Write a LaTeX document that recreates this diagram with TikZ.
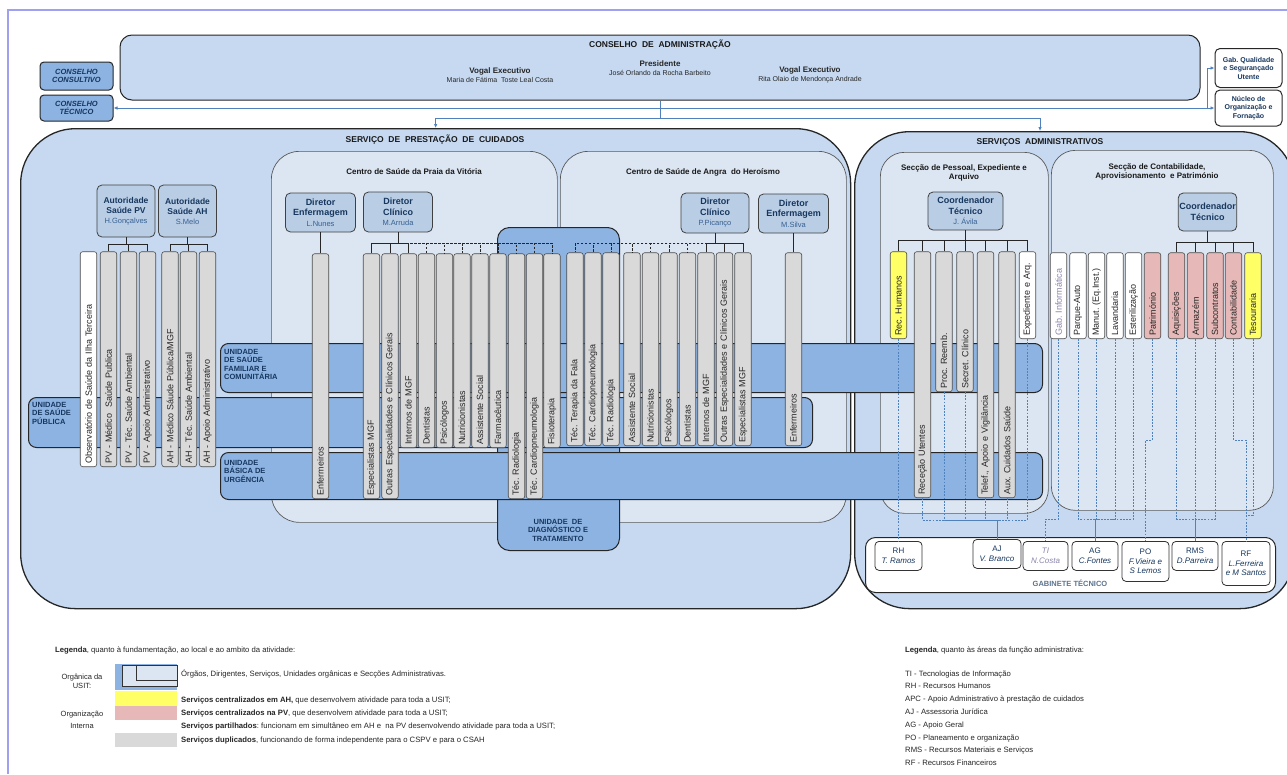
\documentclass[tikz,border=0pt]{standalone}
\usepackage{fontspec}
\setmainfont{Liberation Sans}
\usetikzlibrary{arrows.meta}
\frenchspacing

\definecolor{contfill}{HTML}{C6D9F1}
\definecolor{centfill}{HTML}{DCE6F2}
\definecolor{unitfill}{HTML}{8DB3E2}
\definecolor{dirfill}{HTML}{B9CDE5}
\definecolor{greybar}{HTML}{D9D9D9}
\definecolor{yellowbar}{HTML}{FFFF66}
\definecolor{pinkbar}{HTML}{E6B9B8}
\definecolor{navytxt}{HTML}{17375E}
\definecolor{nametxt}{HTML}{376092}
\definecolor{linkblue}{HTML}{4F81BD}
\definecolor{framelav}{HTML}{A0A0F0}
\definecolor{titxt}{HTML}{8C84AC}
\definecolor{txt}{HTML}{262626}

\newcommand{\svc}[6]{%
  \pgfmathsetmacro{\svclen}{#5-#4-6}%
  \node[svcbar, fill=#2, text width=\svclen pt, anchor=west] (#1) at (#3,#5) {#6};}
\newcommand{\dname}[1]{{\mdseries\fontsize{7.5}{9}\selectfont\color{nametxt}#1}}

\begin{document}
\frenchspacing
\begin{tikzpicture}[x=1pt, y=-1pt, font=\fontsize{7.5}{9}\selectfont\frenchspacing, text=txt]
  \tikzset{
    container/.style={draw=black!85, line width=1.3pt, fill=contfill, rounded corners=55pt, inner sep=0pt},
    centro/.style={draw=black!65, line width=0.7pt, fill=centfill, rounded corners=28pt, inner sep=0pt},
    unit/.style={draw=black!85, line width=1pt, fill=unitfill, rounded corners=8pt, inner sep=0pt},
    ulbl/.style={font=\fontsize{7.5}{8.5}\selectfont\bfseries, text=navytxt, align=left, inner sep=0pt},
    ttl/.style={font=\fontsize{8.5}{10}\selectfont\bfseries, text=black!90, align=center},
    dirbox/.style={draw=black!75, line width=0.8pt, fill=dirfill, rounded corners=5pt, align=center, inner sep=1pt, font=\fontsize{9}{10.5}\selectfont\bfseries, text=navytxt},
    svcbar/.style={draw=black!70, line width=0.6pt, rounded corners=2.5pt, rotate=90, minimum height=16.5pt, inner ysep=0pt, inner xsep=3pt, align=left, font=\fontsize{9}{10}\selectfont\frenchspacing},
    tree/.style={draw=black!85, line width=0.8pt},
    dtree/.style={tree, dash pattern=on 2.5pt off 1.5pt, line width=0.6pt},
    arr/.style={draw=linkblue, line width=0.9pt, -{Latex[length=4pt, width=3.5pt]}},
    link/.style={draw=linkblue, line width=0.9pt},
    dots/.style={draw=linkblue, line width=0.7pt, dash pattern=on 1.8pt off 1.4pt},
    gabbox/.style={draw=black!80, line width=0.8pt, fill=white, rounded corners=4pt, align=center, inner sep=1pt, minimum width=47pt, minimum height=29pt, anchor=north, font=\fontsize{8}{9.5}\selectfont, text=navytxt},
    cbox/.style={draw=black!85, line width=1pt, fill=unitfill, rounded corners=4pt, align=center, minimum width=73pt, font=\fontsize{7.5}{8.5}\selectfont\bfseries\itshape, text=navytxt, inner sep=0pt},
    sidebox/.style={draw=black!85, line width=1pt, fill=white, rounded corners=5pt, align=center, minimum width=67pt, font=\fontsize{7}{8.5}\selectfont\bfseries, text=navytxt, inner sep=0pt},
    swatch/.style={minimum width=62pt, inner sep=0pt},
    lgd/.style={anchor=base west, inner sep=0pt, font=\fontsize{7.7}{9}\selectfont}
  }
  \useasboundingbox (0,0) rectangle (1287,774);
  \fill[white] (0,0) rectangle (1287,774);
  \draw[framelav, line width=1.2pt] (8,774) |- (1287,10);

  % conselho
  \node[draw=black!85, line width=1pt, fill=contfill, rounded corners=12pt, minimum width=1080, minimum height=65] (cad) at (660,67.5) {};
  \node[ttl] (cadt) at (660,45) {CONSELHO\ \ DE\ \ ADMINISTRAÇÃO};
  \node[align=center] (pres) at (660,68) {{\fontsize{8}{9}\selectfont\bfseries Presidente}\\{\fontsize{7}{8}\selectfont José Orlando da Rocha Barbeito}};
  \node[align=center] (vog1) at (500,75) {{\fontsize{8}{9}\selectfont\bfseries Vogal Executivo}\\{\fontsize{7}{8}\selectfont Maria de Fátima\ \ Toste Leal Costa}};
  \node[align=center] (vog2) at (810,75) {{\fontsize{8}{9}\selectfont\bfseries Vogal Executivo}\\{\fontsize{7}{8}\selectfont Rita Olaio de Mendonça Andrade}};
  \node[cbox, minimum height=28] (ccons) at (76.5,76) {CONSELHO\\CONSULTIVO};
  \node[cbox, minimum height=26] (ctec) at (76.5,108) {CONSELHO\\TÉCNICO};
  \node[sidebox, minimum height=39] (gabq) at (1248.5,68) {Gab. Qualidade\\e Segurançado\\Utente};
  \node[sidebox, minimum height=36] (nuc) at (1248.5,108) {Núcleo de\\Organização e\\Fornação};

  % main services
  \node[container, minimum width=830, minimum height=480, anchor=north west] (spc) at (20,128) {};
  \node[container, minimum width=440, minimum height=477, anchor=north west] (sadm) at (854,131) {};
  \node[ttl] (spct) at (435,140) {SERVIÇO\ \ DE\ \ PRESTAÇÃO\ \ DE\ \ CUIDADOS};
  \node[ttl] (sadt) at (1040,142) {SERVIÇOS\ \ ADMINISTRATIVOS};

  \coordinate (jA) at (1207,108);
  \coordinate (jB) at (660,118);
  \coordinate (saIn) at (1040,131);
  \draw[arr] (jA) -- (ctec.east);
  \draw[arr] (jA) -- (nuc.west);
  \draw[arr] (jA) |- (gabq.west);
  \draw[link] (cad.south) -- (jB);
  \draw[arr] (jB) -| (spc.north);
  \draw[arr] (jB) -| (saIn);

  % centros and seccoes
  \node[centro, minimum width=286, minimum height=371, anchor=north west] (csp) at (271,151) {};
  \node[centro, minimum width=286, minimum height=371, anchor=north west] (csa) at (560,151) {};
  \node[ttl, font=\fontsize{8}{9.5}\selectfont\bfseries] (cspt) at (414,172) {Centro de Saúde da Praia da Vitória};
  \node[ttl, font=\fontsize{8}{9.5}\selectfont\bfseries] (csat) at (703,172) {Centro de Saúde de Angra\ \ do Heroísmo};
  \node[centro, rounded corners=24pt, minimum width=168, minimum height=361, anchor=north west] (secp) at (880,152) {};
  \node[centro, rounded corners=24pt, minimum width=222, minimum height=360, anchor=north west] (secc) at (1051,150) {};
  \node[ttl, font=\fontsize{8}{9.5}\selectfont\bfseries] (secpt) at (964,173) {Secção de Pessoal, Expediente e\\Arquivo};
  \node[ttl, font=\fontsize{8}{9.5}\selectfont\bfseries] (secct) at (1157,172) {Secção de Contabilidade,\\Aprovisionamento\ \ e Património};

  % unidades
  \node[unit, rounded corners=12pt, minimum width=122, minimum height=323, anchor=north west] (udt) at (497,227) {};
  \node[ulbl, align=center] (udtl) at (558,530) {UNIDADE\ \ DE\\DIAGNÓSTICO E\\TRATAMENTO};
  \node[unit, minimum width=822, minimum height=49, anchor=north west] (usf) at (220,343) {};
  \node[unit, minimum width=784, minimum height=50, anchor=north west] (usp) at (28,397) {};
  \node[unit, minimum width=822, minimum height=47, anchor=north west] (ubu) at (220,452) {};
  \node[ulbl, anchor=north west] (usfl) at (224,349) {UNIDADE\\DE SAÚDE\\FAMILIAR E\\COMUNITÁRIA};
  \node[ulbl, anchor=north west] (uspl) at (32,402) {UNIDADE\\DE SAÚDE\\PÚBLICA};
  \node[ulbl, anchor=north west] (ubul) at (224,460) {UNIDADE\\BÁSICA DE\\URGÊNCIA};

  % gabinete tecnico
  \node[draw=black!85, line width=1pt, fill=white, rounded corners=10pt, minimum width=410, minimum height=55, anchor=north west] (gtec) at (865,537) {};
  \node[font=\fontsize{7.5}{9}\selectfont\bfseries, text=navytxt!70] (gtect) at (1070,583) {GABINETE TÉCNICO};
  \node[gabbox] (rhg) at (898.5,541) {RH\\\textit{T. Ramos}};
  \node[gabbox, minimum width=48] (ajg) at (997,539) {AJ\\\textit{V. Branco}};
  \node[gabbox, minimum width=45, text=titxt] (tig) at (1045.5,541) {\textit{TI}\\\textit{N.Costa}};
  \node[gabbox, minimum width=46] (agg) at (1095,541) {AG\\\textit{C.Fontes}};
  \node[gabbox, minimum height=40] (pog) at (1145.5,541) {PO\\\textit{F.Vieira e}\\\textit{S Lemos}};
  \node[gabbox, minimum width=46] (rmsg) at (1195,541) {RMS\\\textit{D.Parreira}};
  \node[gabbox, minimum width=48, minimum height=44] (rfg) at (1246,541) {RF\\\textit{L.Ferreira}\\\textit{e M Santos}};

  % services
  \svc{obs}{white}{88.5}{252}{467}{Observatório de Saúde da Ilha Terceira}
  \svc{pvm}{greybar}{108.5}{252}{467}{PV - Médico\ \ Saúde Publica}
  \svc{pvt}{greybar}{128.5}{252}{467}{PV - Téc. Saúde Ambiental}
  \svc{pva}{greybar}{147.5}{252}{467}{PV - Apoio Administrativo}
  \svc{ahm}{greybar}{170}{252}{467}{AH - Médico Sáude Pública/MGF}
  \svc{aht}{greybar}{188.5}{252}{467}{AH - Téc. Saúde Ambiental}
  \svc{aha}{greybar}{207.5}{252}{467}{AH - Apoio Administrativo}

  \svc{enfP}{greybar}{320.5}{254}{499}{Enfermeiros}
  \svc{pesp}{greybar}{371.5}{254}{499}{Especialistas MGF}
  \svc{pout}{greybar}{390}{254}{499}{Outras Especialidades e Clínicos Gerais}
  \svc{pint}{greybar}{408.5}{254}{448}{Internos de MGF}
  \svc{pden}{greybar}{426.5}{254}{448}{Dentistas}
  \svc{ppsi}{greybar}{444.5}{254}{448}{Psicólogos}
  \svc{pnut}{greybar}{462}{254}{448}{Nutricionistas}
  \svc{pass}{greybar}{480}{254}{448}{Assistente Social}
  \svc{pfar}{greybar}{498}{254}{448}{Farmacêutica}
  \svc{prad}{greybar}{516.5}{254}{499}{Téc. Radiologia}
  \svc{pcar}{greybar}{534.5}{254}{499}{Téc. Cardiopneumologia}
  \svc{pfis}{greybar}{552}{254}{448}{Fisioterapia}

  \svc{ater}{greybar}{575}{253}{446}{Téc. Terapia da Fala}
  \svc{acar}{greybar}{593}{253}{446}{Téc. Cardiopneumologia}
  \svc{arad}{greybar}{611}{253}{446}{Téc. Radiologia}
  \svc{aass}{greybar}{632}{253}{446}{Assistente Social}
  \svc{anut}{greybar}{650.5}{253}{446}{Nutricionistas}
  \svc{apsi}{greybar}{669}{253}{446}{Psicólogos}
  \svc{aden}{greybar}{687.5}{253}{446}{Dentistas}
  \svc{aint}{greybar}{706}{253}{446}{Internos de MGF}
  \svc{aout}{greybar}{724.5}{253}{446}{Outras Especialidades e Clínicos Gerais}
  \svc{aesp}{greybar}{743}{253}{446}{Especialistas MGF}
  \svc{enfA}{greybar}{793.5}{253}{446}{Enfermeiros}

  \svc{rech}{yellowbar}{898.5}{252}{339}{Rec. Humanos}
  \svc{rcu}{greybar}{922.5}{252}{498}{Receção Utentes}
  \svc{prc}{greybar}{944}{252}{392}{Proc. Reemb.}
  \svc{sec}{greybar}{965}{252}{392}{Secret. Clínico}
  \svc{tel}{greybar}{985.5}{252}{498}{Telef., Apoio e Vigilância}
  \svc{aux}{greybar}{1007}{252}{498}{Aux. Cuidados Saúde}
  \svc{expd}{white}{1027.5}{252}{339}{Expediente e Arq.}

  \svc{gabi}{white}{1058.5}{253}{339}{\color{titxt}Gab. Informática}
  \svc{parq}{white}{1078}{253}{339}{Parque-Auto}
  \svc{manu}{white}{1096.5}{253}{339}{Manut. (Eq.Inst.)}
  \svc{lava}{white}{1115}{253}{339}{Lavandaria}
  \svc{este}{white}{1133.5}{253}{339}{Esterilização}
  \svc{patr}{pinkbar}{1152.5}{253}{339}{Património}
  \svc{aqui}{pinkbar}{1176.5}{253}{339}{Aquisições}
  \svc{arma}{pinkbar}{1195.5}{253}{339}{Armazém}
  \svc{subc}{pinkbar}{1215}{253}{339}{Subcontratos}
  \svc{cont}{pinkbar}{1233.5}{253}{339}{Contabilidade}
  \svc{teso}{yellowbar}{1253}{253}{339}{Tesouraria}

  % dirigentes
  \node[dirbox, font=\fontsize{8.5}{10}\selectfont\bfseries, minimum width=58, minimum height=52] (asp) at (126,211) {Autoridade\\Saúde PV\\\dname{H.Gonçalves}};
  \node[dirbox, font=\fontsize{8.5}{10}\selectfont\bfseries, minimum width=58, minimum height=52] (asa) at (187.5,211) {Autoridade\\Saúde AH\\\dname{S.Melo}};
  \node[dirbox, minimum width=70, minimum height=39] (denP) at (320.5,212.5) {Diretor\\Enfermagem\\\dname{L.Nunes}};
  \node[dirbox, minimum width=69, minimum height=40] (dclP) at (398,212) {Diretor\\Clínico\\\dname{M.Arruda}};
  \node[dirbox, minimum width=68, minimum height=40] (dclA) at (715,213) {Diretor\\Clínico\\\dname{P.Picanço}};
  \node[dirbox, minimum width=70, minimum height=39] (denA) at (793.5,213.5) {Diretor\\Enfermagem\\\dname{M.Silva}};
  \node[dirbox, minimum width=75, minimum height=38] (ctp) at (965.5,211) {Coordenador\\Técnico\\\dname{J. Ávila}};
  \node[dirbox, minimum width=51, minimum height=38] (ctc) at (1207.5,212) {Coordenador\\Técnico};

  % hierarquia
  \coordinate (jpv) at (126,244);
  \draw[tree] (asp.south) -- (jpv);
  \foreach \b in {pvm,pvt,pva} \draw[tree] (jpv) -| (\b.east);
  \coordinate (jah) at (187.5,244);
  \draw[tree] (asa.south) -- (jah);
  \foreach \b in {ahm,aht,aha} \draw[tree] (jah) -| (\b.east);
  \draw[tree] (denP.south) -- (enfP.east);
  \coordinate (jcp) at (398,243);
  \draw[tree] (dclP.south) -- (jcp);
  \foreach \b in {pden,ppsi,pnut,pass,pfar,prad,pcar,pfis} \draw[dtree] (jcp) -| (\b.east);
  \foreach \b in {pesp,pout,pint} \draw[tree] (jcp) -| (\b.east);
  \coordinate (jca) at (715,243);
  \draw[tree] (dclA.south) -- (jca);
  \foreach \b in {ater,acar,arad,aass,anut,apsi,aden} \draw[dtree] (jca) -| (\b.east);
  \foreach \b in {aint,aout,aesp} \draw[tree] (jca) -| (\b.east);
  \draw[tree] (denA.south) -- (enfA.east);
  \coordinate (jsp) at (965.5,240);
  \draw[tree] (ctp.south) -- (jsp);
  \foreach \b in {rech,rcu,prc,sec,tel,aux,expd} \draw[tree] (jsp) -| (\b.east);
  \coordinate (jsc) at (1207.5,242);
  \draw[tree] (ctc.south) -- (jsc);
  \foreach \b in {aqui,arma,subc,cont,teso} \draw[tree] (jsc) -| (\b.east);

  % ligacoes ao gabinete tecnico
  \draw[dots] (rech.west) -- (rhg.north);
  \coordinate (jaj) at (997,520);
  \foreach \b in {rcu,prc,sec,tel,aux,expd} \draw[dots] (\b.west) |- (jaj);
  \draw[link] (jaj) -- (ajg.north);
  \coordinate (jti) at (1045.5,519);
  \draw[dots] (gabi.west) |- (jti) -- (tig.north);
  \coordinate (jag) at (1095,519);
  \foreach \b in {parq,manu,lava,este} \draw[dots] (\b.west) |- (jag);
  \draw[link] (jag) -- (agg.north);
  \coordinate (jpo) at (1145.5,440);
  \draw[dots] (patr.west) |- (jpo) -- (pog.north);
  \coordinate (jrms) at (1195,519);
  \foreach \b in {aqui,arma,subc} \draw[dots] (\b.west) |- (jrms);
  \draw[link] (jrms) -- (rmsg.north);
  \coordinate (jrf) at (1246,440);
  \draw[dots] (cont.west) |- (jrf) -- (rfg.north);
  \coordinate (jrf2) at (1246,515);
  \draw[dots] (teso.west) |- (jrf2);

  % legendas
  \node[lgd] (lg0) at (55,652) {\textbf{Legenda}, quanto à fundamentação, ao local e ao ambito da atividade:};
  \node[align=center, font=\fontsize{7.5}{9}\selectfont] (lgorg) at (82,681) {Orgânica da\\USIT:};
  \node[swatch, fill=unitfill, minimum height=26, anchor=north west] (swb) at (115,664) {};
  \node[draw=black!80, line width=0.7pt, fill=centfill, anchor=north east, minimum width=55, minimum height=21, inner sep=0pt] (swo) at ([yshift=-1]swb.north east) {};
  \node[draw=black!80, line width=0.7pt, fill=centfill, anchor=north east, minimum width=41, minimum height=15, inner sep=0pt] (swi) at (swo.north east) {};
  \node[lgd] (lgt1) at (181,676) {Órgãos, Dirigentes, Serviços, Unidades orgânicas e Secções Administrativas.};
  \node[swatch, fill=yellowbar, minimum height=15, anchor=north west] (swy) at (115,691) {};
  \node[lgd] (lgt2) at (181,702) {\textbf{Serviços centralizados em AH,} que desenvolvem atividade para toda a USIT;};
  \node[swatch, fill=pinkbar, minimum height=14, anchor=north west] (swp) at (115,706) {};
  \node[align=center, font=\fontsize{7.5}{12}\selectfont] (lgint) at (82,720) {Organização\\Interna};
  \node[lgd] (lgt3) at (181,715) {\textbf{Serviços centralizados na PV}, que desenvolvem atividade para toda a USIT;};
  \node[lgd] (lgt4) at (181,728) {\textbf{Serviços partilhados}: funcionam em simultâneo em AH e\ \ na PV desenvolvendo atividade para toda a USIT;};
  \node[swatch, fill=greybar, minimum height=14, anchor=north west] (swg) at (115,733) {};
  \node[lgd] (lgt5) at (181,742) {\textbf{Serviços duplicados}, funcionando de forma independente para o CSPV e para o CSAH};

  \node[lgd] (lr0) at (905,652) {\textbf{Legenda}, quanto às áreas da função administrativa:};
  \foreach \t [count=\i] in {TI - Tecnologias de Informação, RH - Recursos Humanos,
      APC - Apoio Administrativo à prestação de cuidados, AJ - Assessoria Jurídica,
      AG - Apoio Geral, PO - Planeamento e organização,
      RMS - Recursos Materiais e Serviços, RF - Recursos Financeiros}
    \node[lgd] (lr\i) at (905,663.2+12.8*\i) {\t};
\end{tikzpicture}
\end{document}
